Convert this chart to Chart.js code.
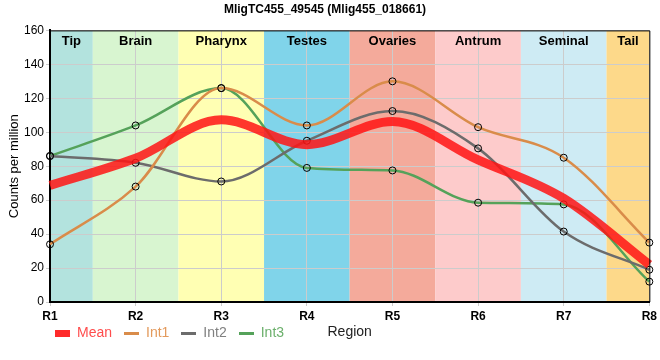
<!DOCTYPE html>
<html>
<head>
<meta charset="utf-8">
<script src="https://cdn.jsdelivr.net/npm/chart.js@4"></script>
<style>
  html, body { margin: 0; padding: 0; background: #fff; }
  #wrap { width: 660px; height: 360px; }
</style>
</head>
<body>
<div id="wrap"><canvas id="chart" width="660" height="360"></canvas></div>
<script>
// --- Datos ---
const regions = ['R1', 'R2', 'R3', 'R4', 'R5', 'R6', 'R7', 'R8'];
const meanValues = [68.7, 84.7, 107.3, 92.7, 106.3, 83.7, 61, 22];
const int1Values = [34, 68, 126, 104, 130, 103, 85, 35];
const int2Values = [86, 82, 71, 95, 112.5, 90.5, 41.5, 19];
const int3Values = [86, 104, 126, 79, 77.5, 58.5, 57.5, 12];
const yTicks = [0, 20, 40, 60, 80, 100, 120, 140, 160];

// bandas de tejido: nombre, desde, hasta (en indice de region)
const bandNames = ['Tip', 'Brain', 'Pharynx', 'Testes', 'Ovaries', 'Antrum', 'Seminal', 'Tail'];
const bandFrom = [0, 0.5, 1.5, 2.5, 3.5, 4.5, 5.5, 6.5];
const bandTo = [0.5, 1.5, 2.5, 3.5, 4.5, 5.5, 6.5, 7];
const bandColors = ['#b3e3de', '#d8f5d0', '#ffffb3', '#80d4ea', '#f4aa9b', '#fdcbcb', '#ceebf4', '#fdd98a'];

// --- Iconos de la leyenda ---
function legendIcon(color, h) {
  const c = document.createElement('canvas');
  c.width = 15; c.height = h;
  const g = c.getContext('2d');
  g.fillStyle = color;
  g.fillRect(0, 0, 15, h);
  return c;
}

// --- Plugin: bandas, bordes y titulo del eje X ---
const bandsPlugin = {
  id: 'bands',
  afterLayout(chart) {
    // la leyenda va pegada al eje, corrida a la derecha
    chart.legend.left = 43;
    chart.legend.top -= 10;
    chart.legend.bottom -= 10;
  },
  beforeDraw(chart) {
    const { ctx, chartArea: a, scales: { x } } = chart;
    ctx.save();
    bandNames.forEach((name, i) => {
      const x0 = x.getPixelForValue(bandFrom[i]);
      const x1 = x.getPixelForValue(bandTo[i]);
      ctx.fillStyle = bandColors[i];
      ctx.fillRect(x0, a.top, x1 - x0, a.bottom - a.top);
    });
    ctx.restore();
  },
  afterDraw(chart) {
    const { ctx, chartArea: a, scales: { x } } = chart;
    ctx.save();
    ctx.fillStyle = '#000';
    ctx.font = 'bold 13px "Liberation Sans", Arial, sans-serif';
    ctx.textAlign = 'center';
    ctx.textBaseline = 'middle';
    bandNames.forEach((name, i) => {
      const x0 = x.getPixelForValue(bandFrom[i]);
      const x1 = x.getPixelForValue(bandTo[i]);
      ctx.fillText(name, (x0 + x1) / 2, a.top + 11);
    });
    // marco fino arriba y derecha
    ctx.strokeStyle = '#000';
    ctx.lineWidth = 1;
    ctx.beginPath();
    ctx.moveTo(a.left, a.top + 0.5);
    ctx.lineTo(a.right + 0.5, a.top + 0.5);
    ctx.lineTo(a.right + 0.5, a.bottom);
    ctx.stroke();
    // titulo del eje X en la linea de la leyenda
    ctx.font = '14px "Liberation Sans", Arial, sans-serif';
    ctx.fillStyle = '#222';
    const lg = chart.legend;
    ctx.fillText('Region', (a.left + a.right) / 2, lg.top + lg.height / 2);
    ctx.restore();
  }
};

// --- Grafico ---
const pointStyle = { pointBorderColor: '#000', pointBackgroundColor: 'rgba(0,0,0,0)', pointBorderWidth: 1, pointRadius: 3.5 };

new Chart(document.getElementById('chart'), {
  type: 'line',
  data: {
    labels: regions,
    datasets: [
      { label: 'Mean', data: meanValues, borderColor: 'rgba(255, 20, 20, 0.85)', borderWidth: 9, pointRadius: 0 },
      { label: 'Int1', data: int1Values, borderColor: '#d98c4a', borderWidth: 2.5, ...pointStyle },
      { label: 'Int2', data: int2Values, borderColor: '#6c6c6c', borderWidth: 2.5, ...pointStyle },
      { label: 'Int3', data: int3Values, borderColor: '#55a25a', borderWidth: 2.5, ...pointStyle }
    ]
  },
  options: {
    responsive: false,
    animation: false,
    layout: { padding: { top: 0, right: 10, bottom: 0, left: 0 } },
    elements: {
      line: { cubicInterpolationMode: 'monotone', fill: false }
    },
    scales: {
      x: {
        offset: false,
        afterFit: s => { s.height = 22; },
        grid: { color: '#cccccc', tickLength: 4 },
        border: { color: '#000', width: 2 },
        ticks: { color: '#000', padding: 3, maxRotation: 0, font: { size: 12, weight: 'bold', family: '"Liberation Sans", Arial' } }
      },
      y: {
        min: 0, max: 160,
        afterFit: s => { s.width = 50; },
        afterBuildTicks: s => { s.ticks = yTicks.map(v => ({ value: v })); },
        grid: { color: '#cccccc', tickLength: 4 },
        border: { color: '#000', width: 2 },
        ticks: { color: '#000', padding: 2, font: { size: 12, family: '"Liberation Sans", Arial' } },
        title: { display: true, text: 'Counts per million', color: '#000', padding: { top: 7, bottom: 0 }, font: { size: 13, family: '"Liberation Sans", Arial' } }
      }
    },
    plugins: {
      title: {
        display: true,
        text: 'MligTC455_49545 (Mlig455_018661)',
        color: '#000',
        font: { size: 12, weight: 'bold', family: '"Liberation Sans", Arial' },
        padding: { top: 2, bottom: 14 }
      },
      legend: {
        position: 'bottom',
        align: 'start',
        labels: {
          usePointStyle: true,
          boxWidth: 15,
          pointStyleWidth: 15,
          padding: 12,
          font: { size: 14, family: '"Liberation Sans", Arial' },
          generateLabels: chart => {
            const txt = ['#ff4d4d', '#e39a5c', '#808080', '#6cb06c'];
            return chart.data.datasets.map((d, i) => ({
              text: d.label,
              fontColor: txt[i],
              pointStyle: legendIcon(i === 0 ? '#ff2a2a' : d.borderColor, i === 0 ? 7 : 3),
              datasetIndex: i,
              lineWidth: 0,
              strokeStyle: 'transparent',
              fillStyle: 'transparent'
            }));
          }
        }
      },
      tooltip: { enabled: false }
    }
  },
  plugins: [bandsPlugin]
});
</script>
</body>
</html>
